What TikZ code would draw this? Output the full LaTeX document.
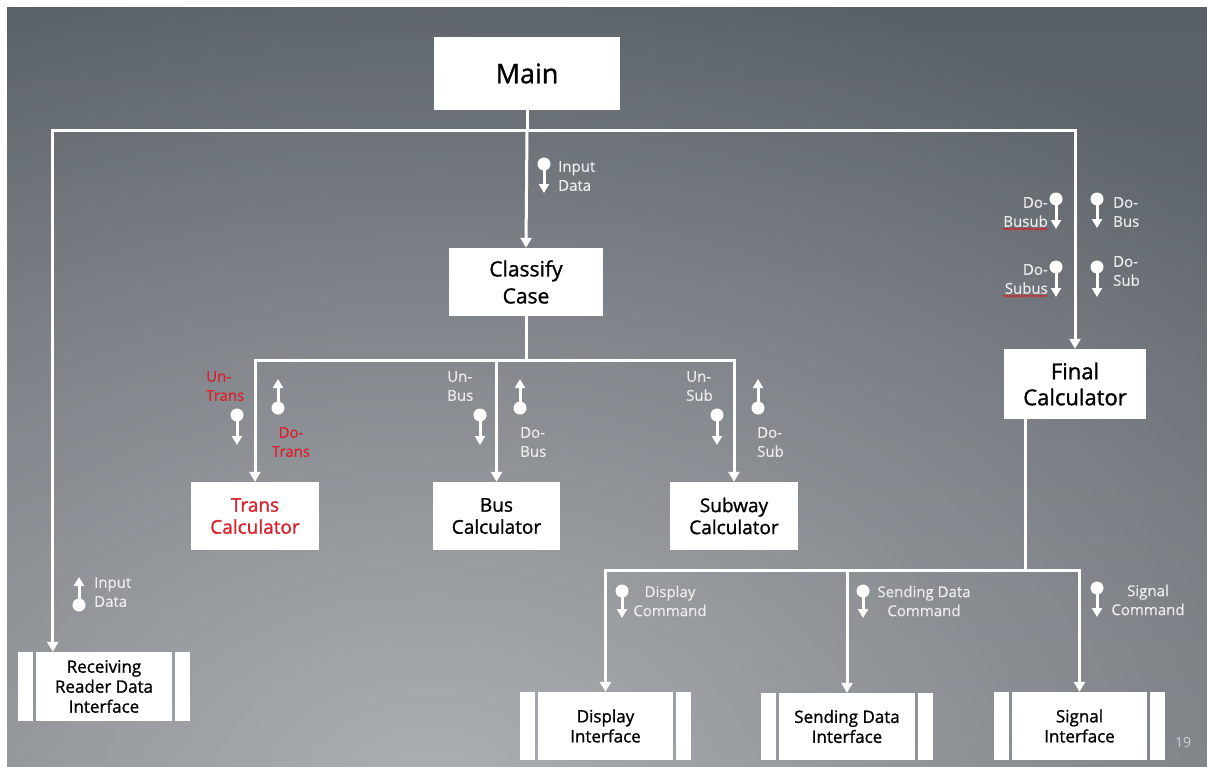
\documentclass[tikz,border=0pt]{standalone}
\usepackage{fontspec}
\setmainfont{Open Sans}
\newfontfamily\heavyfont[FakeBold=1.2]{Open Sans}
\newfontfamily\lblfont[FakeBold=0.5]{Open Sans}
\usetikzlibrary{arrows.meta,calc,fadings,decorations.pathmorphing}

\definecolor{bgtop}{RGB}{90,96,104}
\definecolor{bgbot}{RGB}{106,111,117}
\definecolor{glowc}{RGB}{172,175,179}
\definecolor{lbltxt}{RGB}{236,236,236}
\definecolor{hot}{RGB}{218,32,42}
\definecolor{pgnum}{RGB}{205,207,210}

\tikzfading[name=glowfade, inner color=transparent!0, outer color=transparent!100]

\newcommand\fs[2]{\fontsize{#1}{#2}\selectfont}
% data couple: filled dot with a short arrow (x, dot y, tip y)
\newcommand\couple[3]{%
  \fill[white] (#1,#2) circle[radius=6.5pt];
  \draw[cpl] (#1,#2) -- (#1,#3);}
% the two side bars of an interface module
\newcommand\sidebars[1]{%
  \fill[white] ($(#1.north west)+(-2.5,0)$) rectangle ($(#1.south west)+(-17.5,0)$);
  \fill[white] ($(#1.north east)+(2.5,0)$) rectangle ($(#1.south east)+(17.5,0)$);}

\begin{document}
\begin{tikzpicture}[x=1pt,y=-1pt,
  box/.style={fill=white, inner sep=0pt, align=center, text=black},
  modbox/.style={box, minimum width=128pt, minimum height=68pt, font=\heavyfont\fs{19}{22}},
  ifbox/.style={box, minimum width=135pt, minimum height=68pt, font=\heavyfont\fs{17}{20}},
  wire/.style={draw=white, line width=3pt},
  arr/.style={wire, -{Triangle[length=10pt,width=11pt]}},
  cpl/.style={draw=white, line width=3pt, -{Triangle[length=9pt,width=10pt]}},
  lbl/.style={text=lbltxt, inner sep=0pt, font=\lblfont\fs{15}{19}},
  wavy/.style={draw=hot, line width=0.8pt, decorate,
    decoration={snake, amplitude=0.8pt, segment length=3pt}},
]
\useasboundingbox (0,0) rectangle (1207,766);
% slide background
\fill[white] (0,0) rectangle (1207,766);
\shade[top color=bgtop, bottom color=bgbot] (7,7) rectangle (1207,766);
\begin{scope}
  \clip (7,7) rectangle (1207,766);
  \fill[glowc, path fading=glowfade] (430-1200,790-840) rectangle (430+1200,790+840);
\end{scope}

% modules
\node[box, minimum width=186pt, minimum height=73pt, font=\heavyfont\fs{27}{32}] (main) at (527,73.5) {Main};
\node[box, minimum width=154pt, minimum height=68pt, font=\heavyfont\fs{21}{27}] (classify) at (526,282) {Classify\\Case};
\node[box, minimum width=142pt, minimum height=70pt, font=\heavyfont\fs{22}{26}] (final) at (1075,384) {Final\\Calculator};
\node[modbox, text=hot] (trans) at (255,516) {Trans\\Calculator};
\node[modbox, minimum width=127pt] (bus) at (496.5,516) {Bus\\Calculator};
\node[modbox] (subway) at (734,516) {Subway\\Calculator};

% interface modules
\node[ifbox, minimum width=136pt, minimum height=69pt] (recv) at (104,686.5) {Receiving\\Reader Data\\Interface};
\node[ifbox] (disp) at (605.5,726) {Display\\Interface};
\node[ifbox, minimum width=136pt, minimum height=67pt] (send) at (847,726.5) {Sending Data\\Interface};
\node[ifbox] (sig) at (1079.5,726) {Signal\\Interface};
\sidebars{recv}
\sidebars{disp}
\sidebars{send}
\sidebars{sig}

% calls from Main
\coordinate (j1) at (527,130);
\draw[wire] (main.south) -- (j1);
\draw[arr] (j1) -- (classify.north);
\draw[arr] (j1) -| ($(recv.north west)+(17,0)$);
\draw[arr] (j1) -| (final.north);

% calls from Classify Case
\coordinate (j2) at (526,360);
\draw[wire] (classify.south) -- (j2);
\draw[arr] (j2) -| (trans.north);
\draw[arr] (j2) -| (bus.north);
\draw[arr] (j2) -| (subway.north);

% calls from Final Calculator
\coordinate (j3) at (1025,570);
\draw[wire] (final.south -| j3) -- (j3);
\draw[arr] (j3) -| (disp.north);
\draw[arr] (j3) -| (send.north);
\draw[arr] (j3) -| (sig.north);

% data couples
\couple{544}{164}{193}
\node[lbl, align=left, anchor=west] (l1) at (558,176) {Input\\Data};

\couple{1056}{199}{229}
\node[lbl, align=right, anchor=east] (l2) at (1048,212) {Do-\\Busub};
\draw[wavy] (1003,229) -- (1047,229);
\couple{1097}{199}{228}
\node[lbl, align=left, anchor=west] (l3) at (1113,212) {Do-\\Bus};
\couple{1056}{267}{297}
\node[lbl, align=right, anchor=east] (l4) at (1048,279) {Do-\\Subus};
\draw[wavy] (1003,296) -- (1047,296);
\couple{1097}{267}{297}
\node[lbl, align=left, anchor=west] (l5) at (1113,271) {Do-\\Sub};

\couple{237}{415}{445}
\couple{278}{408}{379}
\node[lbl, text=hot, align=left, anchor=west] (l6) at (206,386) {Un-\\Trans};
\node[lbl, text=hot, align=center] (l7) at (291,442) {Do-\\Trans};

\couple{480}{415}{445}
\couple{520}{408}{379}
\node[lbl, align=left, anchor=west] (l8) at (447,386) {Un-\\Bus};
\node[lbl, align=left, anchor=west] (l9) at (520,442) {Do-\\Bus};

\couple{717}{415}{445}
\couple{758}{408}{379}
\node[lbl, align=left, anchor=west] (l10) at (686,386) {Un-\\Sub};
\node[lbl, align=left, anchor=west] (l11) at (757,442) {Do-\\Sub};

\couple{79}{605}{577}
\node[lbl, align=left, anchor=west] (l12) at (94,592) {Input\\Data};

\couple{622}{591}{618}
\node[lbl, align=center] (l13) at (670,601) {Display\\Command};
\couple{863}{591}{618}
\node[lbl, align=center] (l14) at (924,601) {Sending Data\\Command};
\couple{1097}{588}{617}
\node[lbl, align=center] (l15) at (1148,600) {Signal\\Command};

% slide number
\node[text=pgnum, font=\fs{14}{16}, inner sep=0pt] (pg) at (1183,742) {19};
\end{tikzpicture}
\end{document}
